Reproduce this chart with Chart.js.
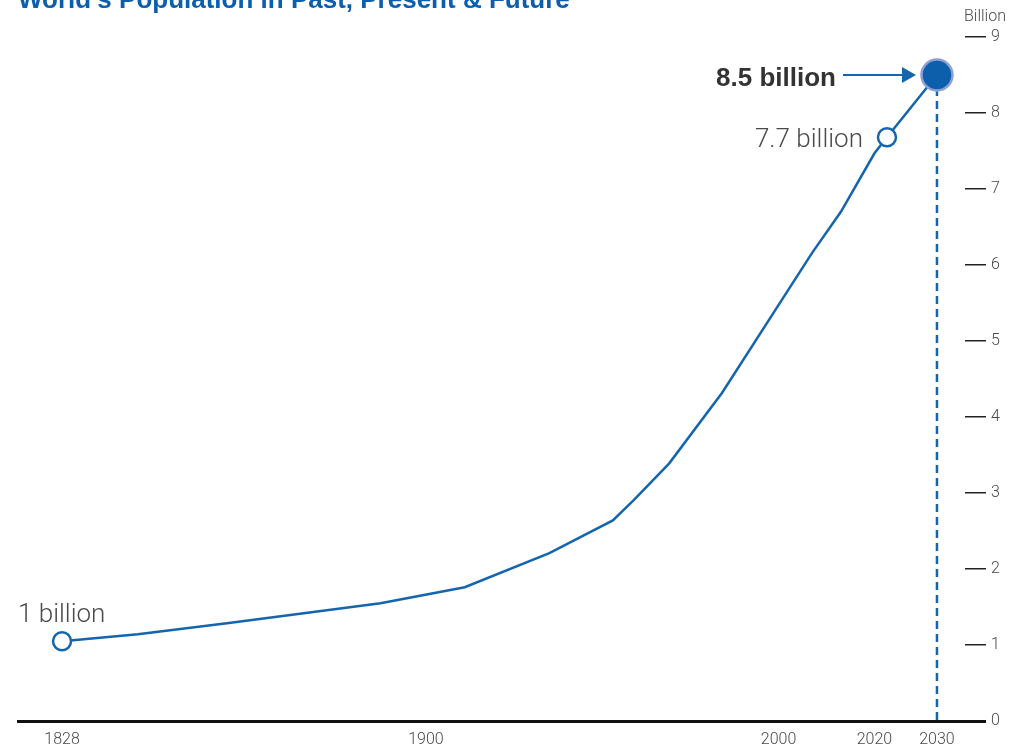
<!DOCTYPE html>
<html>
<head>
<meta charset="utf-8">
<script src="https://cdn.jsdelivr.net/npm/chart.js@4/dist/chart.umd.min.js"></script>
<style>
  html, body { margin: 0; padding: 0; background: #fff; }
  #wrap { width: 1024px; height: 747px; position: relative; }
</style>
</head>
<body>
<div id="wrap"><canvas id="chart"></canvas></div>
<script>
// data
const years = [1828, 1843, 1861, 1891, 1911, 1935, 1953, 1959, 1969, 1984, 2002, 2007, 2013, 2020, 2022, 2030];
const population = [1.05, 1.14, 1.29, 1.55, 1.76, 2.21, 2.64, 2.91, 3.39, 4.32, 5.67, 6.16, 6.70, 7.47, 7.68, 8.5];
const tickYears = [1828, 1900, 2000, 2020, 2030];
const title = "World's Population in Past, Present & Future";
const labels = { first: "1 billion", today: "7.7 billion", future: "8.5 billion" };

const BLUE = '#1565ae';
const TEXT = '#4a4a4a';
const LIGHT = '"Roboto", "Liberation Sans", sans-serif';

// the year axis is not evenly spaced: each labelled year sits at its own spot
const knots = [[1828, 0.0465], [1900, 0.4308], [2000, 0.8031], [2020, 0.9044], [2030, 0.9704]];

function yearToDecimal(v) {
  let i = 0;
  if (v <= knots[0][0]) i = 0;
  else if (v >= knots[knots.length - 1][0]) i = knots.length - 2;
  else while (v > knots[i + 1][0]) i++;
  const [a, da] = knots[i], [b, db] = knots[i + 1];
  return da + (v - a) / (b - a) * (db - da);
}
function decimalToYear(d) {
  let i = 0;
  if (d <= knots[0][1]) i = 0;
  else if (d >= knots[knots.length - 1][1]) i = knots.length - 2;
  else while (d > knots[i + 1][1]) i++;
  const [a, da] = knots[i], [b, db] = knots[i + 1];
  return a + (d - da) / (db - da) * (b - a);
}

class SegmentedScale extends Chart.LinearScale {
  getPixelForValue(value) {
    return this.getPixelForDecimal(yearToDecimal(value));
  }
  getValueForPixel(pixel) {
    return decimalToYear(this.getDecimalForPixel(pixel));
  }
}
SegmentedScale.id = 'segmented';
SegmentedScale.defaults = Chart.LinearScale.defaults;
Chart.register(SegmentedScale);

const extras = {
  id: 'extras',
  beforeDatasetsDraw(chart) {
    const { ctx, chartArea } = chart;
    const pts = chart.getDatasetMeta(0).data;
    const last = pts[pts.length - 1];
    ctx.save();
    ctx.strokeStyle = BLUE;
    ctx.lineWidth = 2.5;
    ctx.setLineDash([8, 5]);
    ctx.beginPath();
    ctx.moveTo(last.x, last.y);
    ctx.lineTo(last.x, chartArea.bottom);
    ctx.stroke();
    ctx.restore();
  },
  afterDraw(chart) {
    const { ctx, chartArea } = chart;
    const pts = chart.getDatasetMeta(0).data;
    const first = pts[0], today = pts[pts.length - 2], last = pts[pts.length - 1];
    ctx.save();

    // title, cut off by the top edge as in the original
    ctx.fillStyle = '#0b5fae';
    ctx.font = 'bold 26px "Liberation Sans", Arial, sans-serif';
    ctx.textAlign = 'left';
    ctx.textBaseline = 'alphabetic';
    ctx.fillText(title, 18, 8);

    // unit
    ctx.fillStyle = TEXT;
    ctx.font = '300 16px ' + LIGHT;
    ctx.textAlign = 'center';
    ctx.textBaseline = 'middle';
    ctx.fillText('Billion', chartArea.right + 20, 17);

    ctx.textBaseline = 'alphabetic';
    ctx.font = '300 26px ' + LIGHT;
    ctx.textAlign = 'left';
    ctx.fillText(labels.first, 18, first.y - 19);
    ctx.textAlign = 'right';
    ctx.fillText(labels.today, today.x - 24, today.y + 10);

    ctx.fillStyle = '#333';
    ctx.font = 'bold 26px "Liberation Sans", Arial, sans-serif';
    ctx.fillText(labels.future, last.x - 101, last.y + 11);

    // arrow
    ctx.strokeStyle = BLUE;
    ctx.fillStyle = BLUE;
    ctx.lineWidth = 2;
    ctx.beginPath();
    ctx.moveTo(last.x - 94, last.y);
    ctx.lineTo(last.x - 34, last.y);
    ctx.stroke();
    ctx.beginPath();
    ctx.moveTo(last.x - 21, last.y);
    ctx.lineTo(last.x - 35, last.y - 8);
    ctx.lineTo(last.x - 35, last.y + 8);
    ctx.closePath();
    ctx.fill();
    ctx.restore();
  }
};

const lastIdx = years.length - 1;
const todayIdx = years.length - 2;

new Chart(document.getElementById('chart'), {
  type: 'line',
  data: {
    datasets: [{
      data: years.map((y, i) => ({ x: y, y: population[i] })),
      borderColor: BLUE,
      borderWidth: 2.5,
      tension: 0,
      pointRadius: ctx => ctx.dataIndex === lastIdx ? 15.5 : (ctx.dataIndex === 0 || ctx.dataIndex === todayIdx ? 9 : 0),
      pointBackgroundColor: ctx => ctx.dataIndex === lastIdx ? '#0c5fab' : '#fff',
      pointBorderColor: ctx => ctx.dataIndex === lastIdx ? '#8e9fd6' : BLUE,
      pointBorderWidth: 2.5,
      clip: false
    }]
  },
  options: {
    responsive: true,
    maintainAspectRatio: false,
    animation: false,
    events: [],
    layout: { padding: { left: 18, top: 37, right: 0, bottom: 0 } },
    plugins: {
      legend: { display: false },
      tooltip: { enabled: false }
    },
    scales: {
      x: {
        type: 'segmented',
        min: 1819,
        max: 2040,
        afterBuildTicks: scale => { scale.ticks = tickYears.map(v => ({ value: v })); },
        afterFit: scale => { scale.height = 26; },
        grid: { display: false, drawTicks: false },
        border: { display: true, color: '#111', width: 3 },
        ticks: {
          autoSkip: false,
          maxRotation: 0,
          padding: 9,
          color: TEXT,
          font: { family: LIGHT, size: 16, weight: 300 },
          callback: v => String(v)
        }
      },
      y: {
        position: 'right',
        min: 0,
        max: 9,
        afterFit: scale => { scale.width = 59; },
        border: { display: false },
        grid: {
          drawOnChartArea: false,
          drawTicks: true,
          tickLength: 21,
          color: ctx => ctx.tick && ctx.tick.value === 0 ? '#111' : '#222',
          lineWidth: ctx => ctx.tick && ctx.tick.value === 0 ? 3 : 1.5
        },
        ticks: {
          stepSize: 1,
          padding: 5,
          color: TEXT,
          font: { family: LIGHT, size: 16, weight: 300 }
        }
      }
    }
  },
  plugins: [extras]
});
</script>
</body>
</html>
